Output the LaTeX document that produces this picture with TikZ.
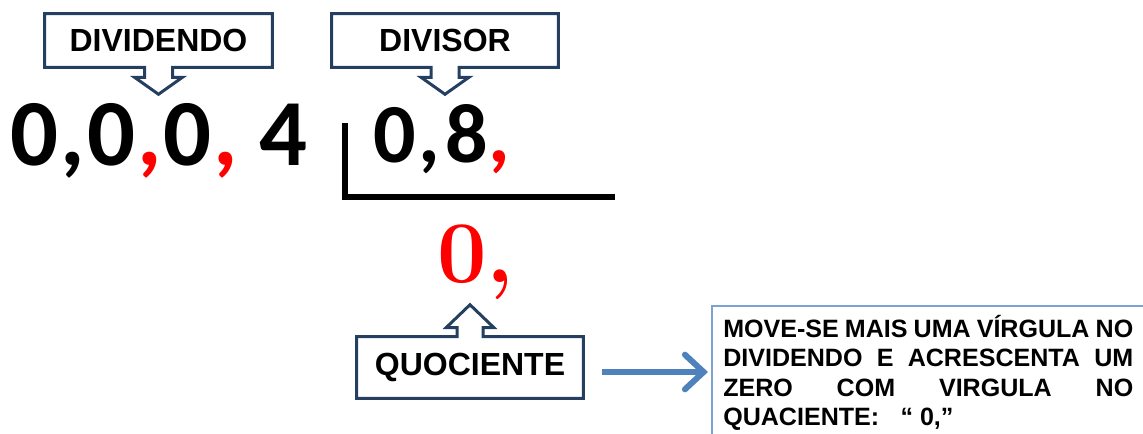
\documentclass[tikz,border=0pt]{standalone}
\usepackage{fontspec}
\newfontfamily\lsans{Liberation Sans}
\newfontfamily\calib{Carlito}
\usetikzlibrary{arrows.meta,calc}
\definecolor{cdark}{RGB}{36,63,96}
\definecolor{clight}{RGB}{126,161,212}
\definecolor{carrow}{RGB}{79,129,189}
\definecolor{cred}{RGB}{255,0,0}
\begin{document}
\begin{tikzpicture}[x=0.75pt,y=-0.75pt,
  lbl/.style={font=\lsans\bfseries\fontsize{24}{28}\selectfont, inner sep=0pt, minimum height=39.75pt},
  callout/.style={draw=cdark, line width=2.25pt, line join=miter},
  bigdig/.style={font=\calib\bfseries\fontsize{71}{71}\selectfont, inner sep=0pt, anchor=base},
  divdig/.style={font=\calib\bfseries\fontsize{63}{63}\selectfont, inner sep=0pt, anchor=base},
  quodig/.style={font=\bfseries\fontsize{66}{66}\selectfont, inner sep=0pt, anchor=base, text=cred}]
\useasboundingbox (0,0) rectangle (1143,433);
\clip (0,0) rectangle (1143,433);

% callout labels
\node[lbl, minimum width=170.25pt] (dvd) at (158.5,40.5) {DIVIDENDO};
\node[lbl, minimum width=169.5pt] (dvs) at (445,40.5) {DIVISOR};
\node[lbl, minimum width=169.5pt, minimum height=45.75pt] (quo) at (470,367.5) {QUOCIENTE};

\draw[callout] (dvd.north west) -- (dvd.north east) -- (dvd.south east)
  -- ($(dvd.south)+(14,0)$) -- ++(0,10) -- ++(10,0) -- ($(dvd.south)+(0,27)$)
  -- ($(dvd.south)+(-24,10)$) -- ++(10,0) -- ++(0,-10) -- (dvd.south west) -- cycle;
\draw[callout] (dvs.north west) -- (dvs.north east) -- (dvs.south east)
  -- ($(dvs.south)+(14,0)$) -- ++(0,10) -- ++(10,0) -- ($(dvs.south)+(0,27)$)
  -- ($(dvs.south)+(-24,10)$) -- ++(10,0) -- ++(0,-10) -- (dvs.south west) -- cycle;
\draw[callout] (quo.north west) -- ($(quo.north)+(-13,0)$) -- ++(0,-9) -- ++(-11,0)
  -- ($(quo.north)+(0,-32)$) -- ($(quo.north)+(24,-9)$) -- ++(-11,0) -- ++(0,9)
  -- (quo.north east) -- (quo.south east) -- (quo.south west) -- cycle;

% dividend
\node[bigdig] (d1) at (34,165) {0};
\node[bigdig] (c1) at (72.5,165) {,};
\node[bigdig] (d2) at (111,165) {0};
\node[bigdig, text=cred] (c2) at (149.5,165) {,};
\node[bigdig] (d3) at (187.5,165) {0};
\node[bigdig, text=cred] (c3) at (225.5,165) {,};
\node[bigdig] (d4) at (283.5,165) {4};

% divisor
\node[divdig] (v1) at (395,162) {0};
\node[divdig] (v2) at (429,162) {,};
\node[divdig] (v3) at (466.5,162) {8};
\node[divdig, text=cred] (v4) at (499.5,162) {,};

% bracket
\draw[line width=4.5pt, line join=miter] (345,123) -- (345,197) -- (615,197);

% quotient
\node[quodig] (q1) at (462.5,282) {0};
\node[quodig] (q2) at (500,282) {,};

% explanation box
\node[anchor=north west, text width=307.5pt, inner xsep=8.25pt, inner ysep=0pt, align=justify,
  font=\lsans\bfseries\fontsize{18.8}{22}\selectfont] (tb) at (712,315)
  {MOVE-SE MAIS UMA VÍRGULA NO\linebreak DIVIDENDO E ACRESCENTA UM\linebreak ZERO COM VIRGULA NO\linebreak QUACIENTE:\hspace{16pt}“ 0,”};
\draw[clight, line width=1.5pt] ($(tb.north west)+(0,-9)$) rectangle ++(520,200);

% arrow
\coordinate (as) at (602,372);
\draw[carrow, line width=4.5pt, shorten >=3pt, -{Straight Barb[length=14pt,width=26pt,line cap=round]}] (as) -- (as -| tb.west);
\end{tikzpicture}
\end{document}
